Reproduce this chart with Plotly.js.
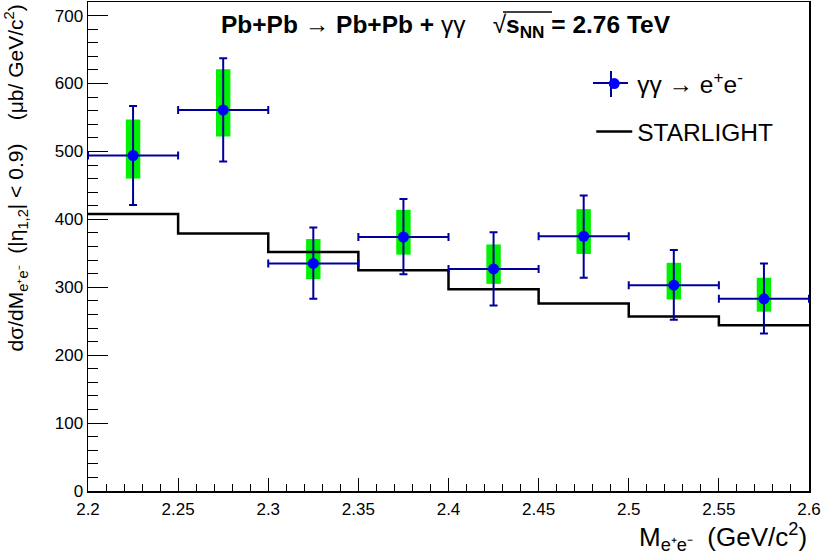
<!DOCTYPE html>
<html>
<head>
<meta charset="utf-8">
<script src="https://cdn.plot.ly/plotly-3.0.1.min.js"></script>
<style>html,body{margin:0;padding:0;background:#fff;}#chart{width:822px;height:554px;}</style>
</head>
<body>
<div id="chart"></div>
<script>
// ---- data ----
var binEdges   = [2.20, 2.25, 2.30, 2.35, 2.40, 2.45, 2.50, 2.55, 2.60];
var massCenter = [2.225, 2.275, 2.325, 2.375, 2.425, 2.475, 2.525, 2.575];
var binHalfWidth = [0.025, 0.025, 0.025, 0.025, 0.025, 0.025, 0.025, 0.025];
var xsec     = [494, 561, 335, 374, 327, 375, 303, 283];
var statUp   = [73, 76, 53, 56, 54, 60, 52, 52];
var statDown = [73, 76, 52, 55, 54, 61, 51, 51];
var sysUp    = [53, 60, 36, 40, 36, 40, 33, 31];
var sysDown  = [34, 39, 23, 26, 22, 26, 21, 19];
var starlight = [408, 379, 352, 325, 297, 276, 257, 244];
var xTickVals = [2.2, 2.25, 2.3, 2.35, 2.4, 2.45, 2.5, 2.55, 2.6];
var xTickText = ["2.2", "2.25", "2.3", "2.35", "2.4", "2.45", "2.5", "2.55", "2.6"];
var yTickVals = [0, 100, 200, 300, 400, 500, 600, 700];
var yTickText = ["0", "100", "200", "300", "400", "500", "600", "700"];

var FONT = "Liberation Sans, Arial, Helvetica, sans-serif";

// step histogram: repeat last value at the final edge
var stepY = starlight.concat([starlight[starlight.length - 1]]);
var sysBase = xsec.map(function (v, i) { return v - sysDown[i]; });
var sysLen  = xsec.map(function (v, i) { return sysUp[i] + sysDown[i]; });

var traces = [
  {
    type: "bar", x: massCenter, y: sysLen, base: sysBase, width: 0.008,
    marker: {color: "#00f200", line: {width: 0}},
    showlegend: false, hoverinfo: "skip"
  },
  {
    type: "scatter", mode: "lines", x: binEdges, y: stepY,
    line: {shape: "hv", color: "#000000", width: 2.5},
    name: "STARLIGHT", legend: "legend2"
  },
  {
    type: "scatter", mode: "markers", x: massCenter, y: xsec,
    marker: {color: "#0000ff", size: 11, line: {width: 0}},
    error_y: {type: "data", symmetric: false, array: statUp, arrayminus: statDown,
              color: "#000099", thickness: 2, width: 4},
    error_x: {type: "data", array: binHalfWidth, color: "#000099", thickness: 2, width: 4},
    name: "γγ → e<sup>+</sup>e<sup>-</sup>", legend: "legend"
  }
];

function px2x(p) { return (p - 88) / 721; }
function px2y(p) { return (491 - p) / 489; }

var layout = {
  width: 822, height: 554,
  margin: {l: 88, r: 13, t: 2, b: 63},
  paper_bgcolor: "#ffffff", plot_bgcolor: "#ffffff",
  font: {family: FONT, color: "#000000", size: 17},
  barmode: "overlay",
  showlegend: true,
  xaxis: {
    range: [2.2, 2.6], tickmode: "array", tickvals: xTickVals, ticktext: xTickText,
    ticks: "inside", ticklen: 13, tickwidth: 1, tickcolor: "#000", ticklabelstandoff: 2,
    minor: {ticks: "inside", dtick: 0.01, tick0: 2.2, ticklen: 7, tickwidth: 1, tickcolor: "#000", showgrid: false},
    showline: true, mirror: true, linecolor: "#000", linewidth: 1.5,
    showgrid: false, zeroline: false, tickfont: {size: 17, family: FONT}
  },
  yaxis: {
    range: [0, 720], tickmode: "array", tickvals: yTickVals, ticktext: yTickText,
    ticks: "inside", ticklen: 20, tickwidth: 1, tickcolor: "#000",
    minor: {ticks: "inside", dtick: 20, tick0: 0, ticklen: 10, tickwidth: 1, tickcolor: "#000", showgrid: false},
    showline: true, mirror: true, linecolor: "#000", linewidth: 1.5,
    showgrid: false, zeroline: false, tickfont: {size: 17, family: FONT}
  },
  legend: {
    x: 0.698, y: 0.879, xanchor: "left", yanchor: "top", itemwidth: 36,
    bgcolor: "rgba(0,0,0,0)", borderwidth: 0,
    font: {size: 24.5, family: FONT}
  },
  legend2: {
    x: 0.698, y: 0.781, xanchor: "left", yanchor: "top", itemwidth: 36,
    bgcolor: "rgba(0,0,0,0)", borderwidth: 0,
    font: {size: 24.5, family: FONT}
  },
  annotations: [
    {
      xref: "paper", yref: "paper", x: 0.496, y: 0.949, xanchor: "center", yanchor: "middle",
      showarrow: false, font: {size: 24.5, family: FONT},
      text: "<b>Pb+Pb</b> → <b>Pb+Pb +</b> γγ    √<b>s<sub>NN</sub> = 2.76 TeV</b>"
    },
    {
      xref: "paper", yref: "paper", x: 1, y: -0.094, xanchor: "right", yanchor: "middle",
      showarrow: false, font: {size: 26, family: FONT},
      text: "M<sub>e⁺e⁻</sub>  (GeV/c<sup>2</sup>)"
    },
    {
      xref: "paper", yref: "paper", x: -0.1, y: 1, xanchor: "center", yanchor: "top",
      showarrow: false, textangle: -90, font: {size: 21, family: FONT},
      text: "dσ/dM<sub>e⁺e⁻</sub>  (|η<sub>1,2</sub>| &lt; 0.9)    (μb/ GeV/c<sup>2</sup>)"
    }
  ],
  shapes: [
    // overline of the square root
    {type: "line", xref: "paper", yref: "paper", x0: px2x(503), x1: px2x(552), y0: px2y(12), y1: px2y(12),
     line: {color: "#000", width: 1.5}},
    // legend cross (error bars) behind the legend marker
    {type: "line", xref: "paper", yref: "paper", x0: px2x(593), x1: px2x(628), y0: px2y(83), y1: px2y(83),
     line: {color: "#000099", width: 2}},
    {type: "line", xref: "paper", yref: "paper", x0: px2x(611), x1: px2x(611), y0: px2y(71), y1: px2y(97),
     line: {color: "#000099", width: 2}}
  ]
};

Plotly.newPlot("chart", traces, layout, {staticPlot: true, displayModeBar: false});
</script>
</body>
</html>
